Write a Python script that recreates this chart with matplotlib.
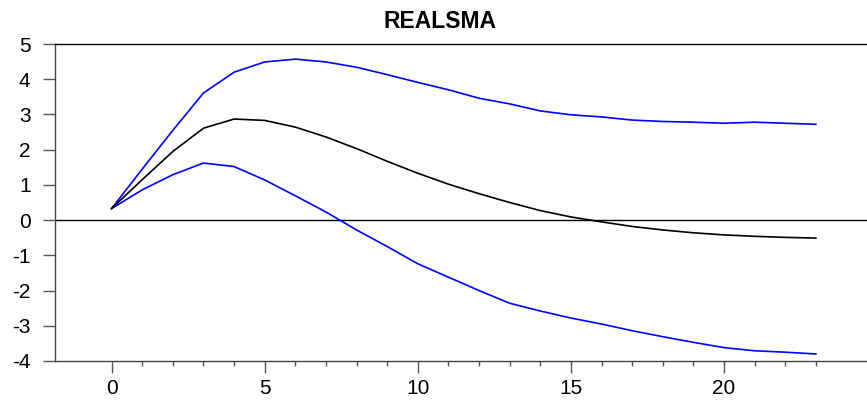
import matplotlib
matplotlib.use('Agg')
import matplotlib.pyplot as plt
from matplotlib.ticker import FixedLocator

plt.rcParams['font.family'] = ['Liberation Sans', 'DejaVu Sans']
plt.rcParams['axes.unicode_minus'] = False

# impulse response of REALSMA with +/- 2 S.E. bands
periods = list(range(24))
response = [0.33, 1.15, 1.95, 2.61, 2.87, 2.83, 2.64, 2.36, 2.03, 1.67, 1.33, 1.02,
            0.75, 0.50, 0.27, 0.09, -0.05, -0.18, -0.28, -0.36, -0.42, -0.46, -0.49, -0.51]
upper = [0.33, 1.45, 2.55, 3.61, 4.20, 4.49, 4.57, 4.49, 4.34, 4.13, 3.91, 3.70,
         3.46, 3.30, 3.10, 2.99, 2.93, 2.84, 2.80, 2.78, 2.75, 2.78, 2.75, 2.72]
lower = [0.33, 0.86, 1.29, 1.62, 1.52, 1.14, 0.69, 0.23, -0.28, -0.75, -1.24, -1.62,
         -2.00, -2.36, -2.58, -2.78, -2.95, -3.14, -3.31, -3.47, -3.62, -3.71, -3.75, -3.80]
yticks = [-4, -3, -2, -1, 0, 1, 2, 3, 4, 5]
xticks = [0, 5, 10, 15, 20]

W, H = 867, 403
fig = plt.figure(figsize=(W / 100, H / 100), dpi=100)
ax = fig.add_axes([55 / W, (H - 361) / H, (W - 55) / W, (361 - 44) / H])

ax.axhline(0, color='black', lw=1.0)
ax.plot(periods, upper, color='#0000ff', lw=1.2)
ax.plot(periods, lower, color='#0000ff', lw=1.2)
ax.plot(periods, response, color='black', lw=1.2)

ax.set_xlim(-1.85, 24.67)
ax.set_ylim(-4, 5)
ax.set_yticks(yticks)
ax.set_xticks(xticks)
ax.xaxis.set_minor_locator(FixedLocator(periods))

ax.spines['right'].set_visible(False)
ax.spines['top'].set_color('black')
ax.spines['left'].set_color('#444444')
ax.spines['bottom'].set_color('#444444')
for s in ax.spines.values():
    s.set_linewidth(1.0)

ax.tick_params(axis='y', direction='out', length=8.6, width=1, color='#555555',
               labelsize=15, pad=9)
ax.tick_params(axis='x', which='major', direction='out', length=8.6, width=1,
               color='#555555', labelsize=15, pad=4)
ax.tick_params(axis='x', which='minor', direction='out', length=3.6, width=1,
               color='#555555')

fig.text(440 / W, 1 - 22 / H, 'REALSMA', ha='center', va='center',
         fontsize=16.5, fontweight='bold')

fig.savefig('out.png', dpi=100)
